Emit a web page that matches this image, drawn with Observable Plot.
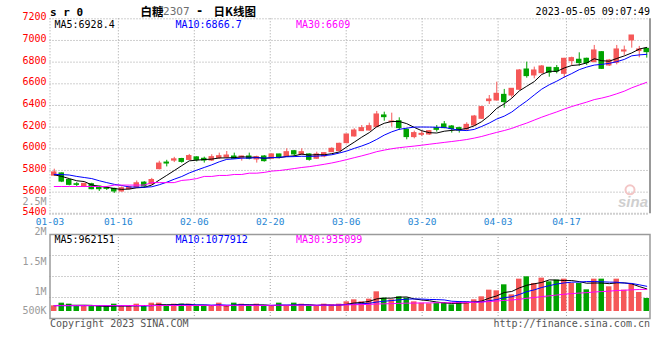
<!DOCTYPE html>
<html><head><meta charset="utf-8">
<script src="https://cdn.jsdelivr.net/npm/d3@7"></script>
<script src="https://cdn.jsdelivr.net/npm/@observablehq/plot@0.6"></script>
<style>
html,body{margin:0;padding:0;background:#fff;}
#chart{position:relative;width:660px;height:360px;overflow:hidden;background:#fff;}
#chart svg{position:absolute;left:0;overflow:visible;}
</style></head><body>
<div id="chart"></div>
<script>
// ---------- data ----------
const dates = ["01-03","01-04","01-05","01-06","01-09","01-10","01-11","01-12","01-13","01-16","01-17","01-18","01-19","01-20",
  "01-30","01-31","02-01","02-02","02-03","02-06","02-07","02-08","02-09","02-10","02-13","02-14","02-15","02-16","02-17",
  "02-20","02-21","02-22","02-23","02-24","02-27","02-28","03-01","03-02","03-03","03-06","03-07","03-08","03-09","03-10",
  "03-13","03-14","03-15","03-16","03-17","03-20","03-21","03-22","03-23","03-24","03-27","03-28","03-29","03-30","03-31",
  "04-03","04-04","04-06","04-07","04-10","04-11","04-12","04-13","04-14","04-17","04-18","04-19","04-20","04-21",
  "04-24","04-25","04-26","04-27","04-28","05-04","05-05"];
const tickDates = ["01-03","01-16","02-06","02-20","03-06","03-20","04-03","04-17"];
const open  = [5752,5773,5712,5673,5652,5673,5652,5636,5630,5606,5627,5642,5688,5673,5812,5873,5891,5906,5897,5921,
  5908,5892,5914,5920,5929,5917,5929,5902,5929,5908,5948,5929,5978,5945,5948,5908,5929,5969,5978,6052,
  6114,6163,6169,6200,6308,6246,6255,6175,6108,6129,6132,6191,6225,6206,6191,6178,6215,6277,6440,6446,
  6498,6492,6545,6732,6677,6698,6748,6745,6692,6809,6822,6831,6800,6892,6769,6794,6898,7000,6902,6923];
const high  = [5812,5778,5715,5688,5682,5682,5654,5648,5636,5648,5652,5703,5697,5727,5885,5894,5921,5912,5948,5927,
  5923,5945,5960,5975,5960,5932,5960,5932,5938,5954,5950,6000,5985,6000,5954,5969,5962,6009,6052,6135,
  6185,6215,6237,6345,6338,6329,6286,6185,6163,6163,6169,6215,6252,6215,6200,6240,6308,6391,6492,6615,
  6548,6554,6732,6800,6754,6769,6750,6769,6835,6846,6886,6837,6954,6898,6825,6954,6948,7046,6945,6923];
const low   = [5745,5688,5658,5652,5642,5622,5606,5615,5588,5600,5621,5636,5636,5667,5806,5833,5873,5867,5894,5879,
  5868,5883,5902,5908,5902,5886,5898,5868,5877,5905,5908,5929,5923,5938,5886,5902,5917,5966,5975,6046,
  6108,6160,6163,6200,6255,6200,6169,6083,6092,6114,6123,6154,6185,6145,6145,6163,6209,6271,6409,6440,
  6375,6468,6538,6652,6646,6692,6661,6692,6652,6769,6763,6769,6794,6732,6760,6775,6862,6929,6840,6837];
const close = [5782,5697,5667,5667,5676,5627,5627,5630,5606,5636,5645,5682,5652,5712,5864,5864,5903,5879,5933,5897,
  5892,5923,5932,5938,5908,5929,5908,5923,5886,5948,5923,5969,5948,5969,5898,5948,5960,6000,6046,6132,
  6169,6191,6209,6317,6292,6252,6191,6108,6145,6138,6163,6175,6191,6182,6169,6221,6298,6385,6455,6508,
  6431,6554,6723,6671,6723,6760,6702,6714,6831,6837,6791,6791,6908,6738,6815,6917,6908,7046,6917,6892];
const volume = [241,355,312,213,213,213,213,213,312,213, 213,312,213,355,355,213,312,312,312,213,
  213,213,355,213,355,312,213,312,213,213, 355,213,355,312,213,213,312,284,312,412,
  497,412,525,838,568,497,625,568,412,355, 327,355,383,284,412,412,497,625,909,880,
  1136,710,1377,1477,1193,1420,1264,1335,1377,1193, 1193,923,1377,1377,1051,1377,909,1164,809,554].map(v => v * 1000);
// moving-average values before a full window exists
const priceMa5Head  = [5760,5745,5725,5705];
const priceMa10Head = [5764,5762,5758,5745,5735,5725,5705,5688,5672];
const priceMa30Head = [5652,5652,5652,5652,5652,5652,5652,5652,5665,5665,5665,5665,5665,5688,5688,5688,5688,
  5708,5714,5725,5745,5745,5754,5754,5763,5763,5775,5775,5782];
const volMa5Head  = [255000,260000,265000,265000];
const volMa10Head = [248000,248000,250000,250000,252000,252000,252000,250000,250000];
const volMa30Head = [250000,250000,250000,250000,250000,250000,250000,250000,250000,250000,
  255000,255000,255000,255000,255000,255000,255000,255000,255000,255000,
  260000,260000,260000,260000,260000,260000,260000,260000,260000];
const priceTicks = [5400,5600,5800,6000,6200,6400,6600,6800,7000,7200];
const volTickValues = [500000,1000000,1500000,2000000,2500000];
const volTickLabels = ["500K","1M","1.5M","2M","2.5M"];
const priceMaLabels = ["MA5:6928.4","MA10:6866.7","MA30:6609"];
const volMaLabels = ["MA5:962151","MA10:1077912","MA30:935099"];
const symbol = "s r 0";
const titleName = "白糖", titleCode = "2307", titleKind = "日K线图";
const stamp = "2023-05-05 09:07:49";
const footLeft = "Copyright 2023 SINA.COM", footRight = "http://finance.sina.com.cn";

// ---------- styling ----------
const UP = "#f55858", DOWN = "#00a300";
const MA_COLORS = ["#000000", "#0000ff", "#ff00ff"];
const GRID = "#a0a0a0";
const MONO = "DejaVu Sans Mono";
const CJK = "Noto Sans CJK SC";

const N = dates.length;
const bars = dates.map((date, i) => ({i, date, open: open[i], high: high[i], low: low[i], close: close[i],
  volume: volume[i], color: close[i] >= open[i] ? UP : DOWN}));
const movingAvg = (vals, n, head) => vals.map((v, i) => i < n - 1 ? head[i] : d3.mean(vals.slice(i - n + 1, i + 1)));
const priceMAs = [movingAvg(close, 5, priceMa5Head), movingAvg(close, 10, priceMa10Head), movingAvg(close, 30, priceMa30Head)];
const volMAs = [movingAvg(volume, 5, volMa5Head), movingAvg(volume, 10, volMa10Head), movingAvg(volume, 30, volMa30Head)];
const tickIdx = tickDates.map(t => dates.indexOf(t));
const gridX = k => k * N / (N - 1);   // Sina spaces its date grid slightly wider than the bars
const mid = 0.567, bx1 = 0.2, bx2 = 0.93;
const maLines = series => series.map((s, j) => Plot.line(s.map((v, i) => ({i, v})),
  {x: d => d.i + mid, y: "v", stroke: MA_COLORS[j], strokeWidth: 1}));
const maLabelMarks = (labels, dy) => labels.map((t, j) => Plot.text([t], {frameAnchor: "top-left", dx: [4.5, 125.5, 246][j],
  dy, lineAnchor: "top", textAnchor: "start", fill: MA_COLORS[j], fontFamily: MONO, fontSize: 10}));
const svgStyle = {background: "transparent", overflow: "visible", fontFamily: MONO, fontSize: "10px"};

const chart = document.getElementById("chart");

// ---------- price panel ----------
const priceH = 228;
const price = Plot.plot({
  width: 660, height: priceH,
  marginLeft: 49.5, marginRight: 10.5, marginTop: 18.3, marginBottom: priceH - 213.3,
  style: svgStyle,
  x: {type: "linear", domain: [0, N], axis: null},
  y: {type: "linear", domain: [5400, 7200]},
  marks: [
    Plot.ruleY(priceTicks.slice(1), {stroke: GRID, strokeDasharray: "1,2"}),
    Plot.ruleY([priceTicks[0]], {stroke: GRID, strokeDasharray: "1,2", strokeWidth: 2}),
    Plot.ruleX(tickIdx, {x: gridX, stroke: GRID, strokeDasharray: "1,2"}),
    Plot.ruleX([N], {stroke: "#999", strokeWidth: 2}),
    Plot.text(["sina"], {frameAnchor: "bottom-right", dx: -2, dy: -7, textAnchor: "end", fill: "#cfcfcf",
      fontFamily: "Liberation Sans", fontStyle: "italic", fontWeight: "bold", fontSize: 15}),
    Plot.dot([0], {frameAnchor: "bottom-right", dx: -20, dy: -24, r: 4.5, stroke: "#f3c6c6", strokeWidth: 2, fill: "none"}),
    Plot.ruleX(bars, {x: d => d.i + mid, y1: "low", y2: "high", stroke: "color"}),
    Plot.rect(bars, {x1: d => d.i + bx1, x2: d => d.i + bx2, y1: "open", y2: "close", fill: "color",
      insetTop: -0.5, insetBottom: -0.5}),
    ...maLines(priceMAs),
    Plot.axisY(priceTicks, {anchor: "left", tickSize: 0, tickPadding: 3.5, color: "#ff0000", label: null,
      tickFormat: d => `${d}`, fontFamily: MONO, fontSize: 10, dy: -1.8}),
    Plot.text(tickIdx, {x: gridX, frameAnchor: "bottom", text: k => dates[k], lineAnchor: "middle", dy: 8.4,
      fill: "#1f86d4", fontFamily: MONO, fontSize: 9.5}),
    ...maLabelMarks(priceMaLabels, 2),
    Plot.text([symbol], {frameAnchor: "top-left", dy: -3, lineAnchor: "bottom", textAnchor: "start",
      fontFamily: MONO, fontWeight: "bold", fontSize: 11, fill: "#000"}),
    Plot.text([titleName], {frameAnchor: "top-left", dx: 90.5, dy: -3, lineAnchor: "bottom", textAnchor: "start",
      fontFamily: CJK, fontWeight: "bold", fontSize: 11.5, fill: "#000"}),
    Plot.text([titleCode], {frameAnchor: "top-left", dx: 113, dy: -3.5, lineAnchor: "bottom", textAnchor: "start",
      fontFamily: "DejaVu Sans", fontSize: 10.5, fill: "#6e6e6e"}),
    Plot.text(["-"], {frameAnchor: "top-left", dx: 146, dy: -3.5, lineAnchor: "bottom", textAnchor: "start",
      fontFamily: MONO, fontWeight: "bold", fontSize: 12, fill: "#000"}),
    Plot.text([titleKind], {frameAnchor: "top-left", dx: 163.5, dy: -3, lineAnchor: "bottom", textAnchor: "start",
      fontFamily: CJK, fontWeight: "bold", fontSize: 11.5, fill: "#000"}),
    Plot.text([stamp], {frameAnchor: "top-right", dy: -3.5, lineAnchor: "bottom", textAnchor: "end",
      fontFamily: MONO, fontSize: 10, fill: "#000"})
  ]
});
price.style.top = "0px";
chart.appendChild(price);

// ---------- volume panel ----------
const volH = 132;
const pxPerUnit = 42570;               // lots per pixel
const vMax = 77 * pxPerUnit, vMin = -7 * pxPerUnit;
const vol = Plot.plot({
  width: 660, height: volH,
  marginLeft: 49.5, marginRight: 10.5, marginTop: 6, marginBottom: volH - 90,
  style: svgStyle,
  x: {type: "linear", domain: [0, N], axis: null},
  y: {type: "linear", domain: [vMin, vMax], axis: null},
  marks: [
    Plot.ruleY([1, 2, 3], {y: k => vMin + (vMax - vMin) * k / 4, stroke: GRID, strokeDasharray: "1,2"}),
    Plot.ruleX(tickIdx.filter(k => k > 0), {x: gridX, stroke: GRID, strokeDasharray: "1,2"}),
    Plot.rect(bars, {x1: d => d.i + bx1, x2: d => d.i + bx2, y1: 0, y2: "volume", fill: "color"}),
    ...maLines(volMAs),
    Plot.frame({stroke: "#9a9a9a", strokeWidth: 1.5}),
    ...maLabelMarks(volMaLabels, 1.5),
    Plot.text([footLeft], {frameAnchor: "bottom-left", dy: 1, lineAnchor: "top", textAnchor: "start",
      fill: "#555", fontFamily: MONO, fontSize: 10}),
    Plot.text([footRight], {frameAnchor: "bottom-right", dy: 1, lineAnchor: "top", textAnchor: "end",
      fill: "#555", fontFamily: MONO, fontSize: 10})
  ]
});
vol.style.top = "228px";
chart.appendChild(vol);

// ---------- volume tick labels (Sina draws them on their own scale; the lowest label is clamped) ----------
const labH = 140;
const volLab = Plot.plot({
  width: 660, height: labH,
  marginLeft: 49.5, marginRight: 10.5, marginTop: 11.5, marginBottom: 20,
  style: svgStyle,
  y: {type: "linear", domain: [692000, 2500000], clamp: true},
  marks: [
    Plot.axisY(volTickValues, {anchor: "left", tickSize: 0, tickPadding: 3.5, color: "#9a9a9a", label: null,
      tickFormat: d => volTickLabels[volTickValues.indexOf(d)], fontFamily: MONO, fontSize: 10})
  ]
});
volLab.style.top = "190px";
chart.appendChild(volLab);
</script></body></html>
